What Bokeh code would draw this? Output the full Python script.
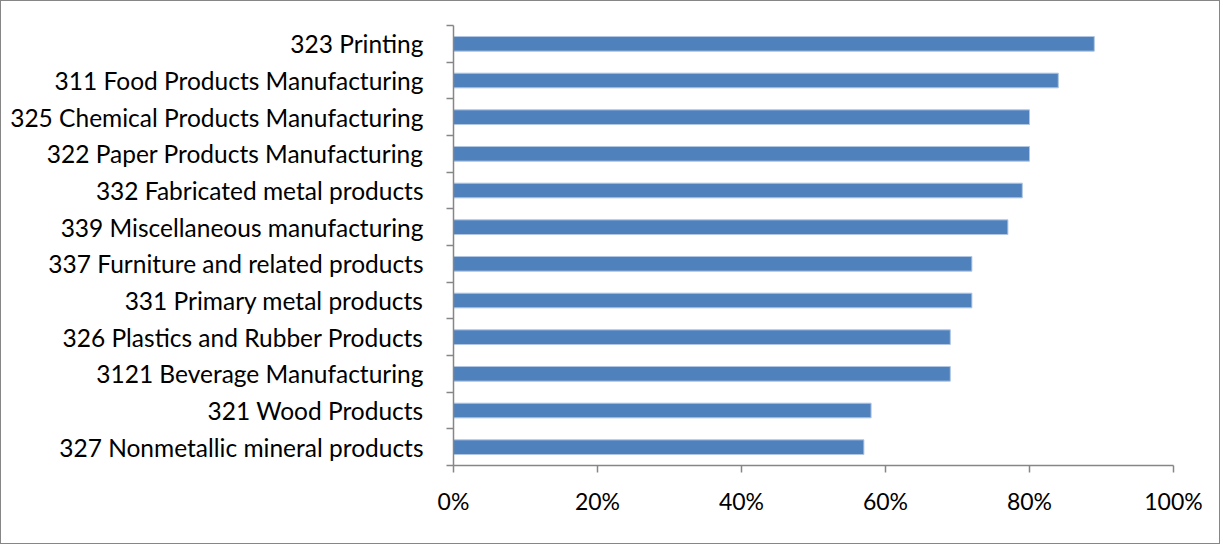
from bokeh.plotting import figure
from bokeh.models import ColumnDataSource, Range1d, FixedTicker, PrintfTickFormatter
from bokeh.embed import file_html
from bokeh.resources import INLINE

categories = [
    "323 Printing",
    "311 Food Products Manufacturing",
    "325 Chemical Products Manufacturing",
    "322 Paper Products Manufacturing",
    "332 Fabricated metal products",
    "339 Miscellaneous manufacturing",
    "337 Furniture and related products",
    "331 Primary metal products",
    "326 Plastics and Rubber Products",
    "3121 Beverage Manufacturing",
    "321 Wood Products",
    "327 Nonmetallic mineral products",
]
values = [89, 84, 80, 80, 79, 77, 72, 72, 69, 69, 58, 57]
x_ticks = [0, 20, 40, 60, 80, 100]

n = len(categories)
ypos = [n - i - 0.5 for i in range(n)]
src = ColumnDataSource(dict(y=ypos, v=values, cat=categories))

FONT = "Lato"
AXIS_COLOR = "#868686"

p = figure(
    width=1218, height=542,
    frame_width=720, frame_height=440,
    min_border_left=452, min_border_right=46, min_border_top=24, min_border_bottom=78,
    x_range=Range1d(0, 100), y_range=Range1d(0, n),
    output_backend="svg", toolbar_location=None,
    styles={"border": "1px solid #868686"},
)
p.outline_line_color = None
p.xgrid.visible = False
p.ygrid.visible = False

p.hbar(y="y", left=0, right="v", height=0.4, source=src,
       fill_color="#4F81BD", line_color="#B0C6E2", line_width=1)

# x axis
p.xaxis.ticker = FixedTicker(ticks=x_ticks)
p.xaxis.formatter = PrintfTickFormatter(format="%d%%")
p.xaxis.axis_line_color = AXIS_COLOR
p.xaxis.axis_line_width = 1.5
p.xaxis.major_tick_line_color = AXIS_COLOR
p.xaxis.major_tick_line_width = 1.5
p.xaxis.major_tick_in = 0
p.xaxis.major_tick_out = 7
p.xaxis.minor_tick_line_color = None
p.xaxis.major_label_standoff = 14
p.xaxis.major_label_text_font = FONT
p.xaxis.major_label_text_font_size = "23px"
p.xaxis.major_label_text_color = "black"

# y axis: labels at centers, ticks at boundaries (minor ticks)
p.yaxis.ticker = FixedTicker(ticks=ypos, minor_ticks=list(range(n + 1)))
p.yaxis.major_label_overrides = {y: c for y, c in zip(ypos, categories)}
p.yaxis.axis_line_color = AXIS_COLOR
p.yaxis.axis_line_width = 1.5
p.yaxis.major_tick_line_color = None
p.yaxis.minor_tick_line_color = AXIS_COLOR
p.yaxis.minor_tick_line_width = 1.5
p.yaxis.minor_tick_in = 0
p.yaxis.minor_tick_out = 7
p.yaxis.major_label_standoff = 23
p.yaxis.major_label_text_font = FONT
p.yaxis.major_label_text_font_size = "24.5px"
p.yaxis.major_label_text_color = "black"

open("out.html", "w").write(file_html(p, INLINE))
